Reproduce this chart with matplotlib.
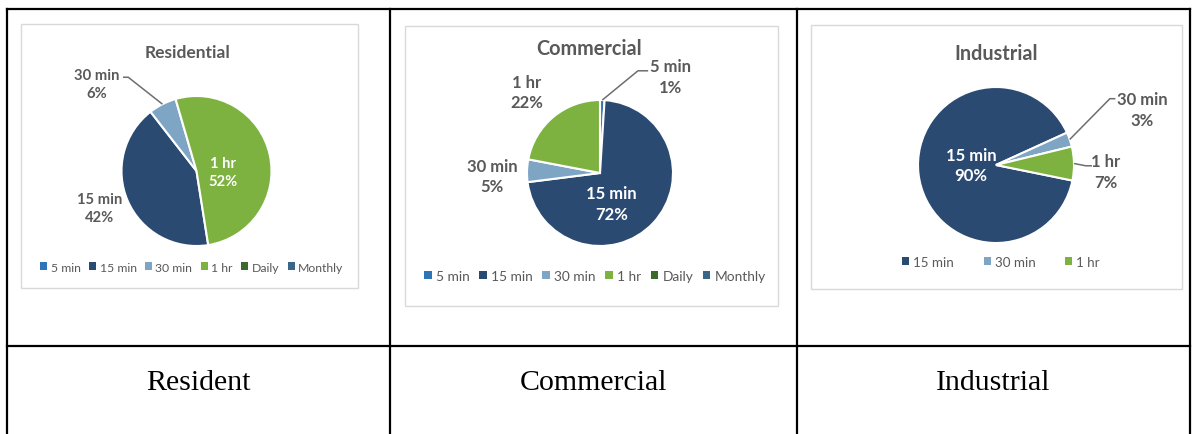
import numpy as np
import matplotlib.pyplot as plt
from matplotlib.patches import Rectangle, Patch
from matplotlib.lines import Line2D

W, H = 1192, 435

intervals = ["5 min", "15 min", "30 min", "1 hr", "Daily", "Monthly"]
colors = ["#2E75B6", "#2B4A72", "#7EA6C4", "#7DB241", "#3B6A2A", "#3A6787"]

residential = [0, 42, 6, 52, 0, 0]
commercial = [1, 72, 5, 22, 0, 0]

industrial_intervals = ["15 min", "30 min", "1 hr"]
industrial_colors = ["#2B4A72", "#7EA6C4", "#7DB241"]
industrial = [90, 3, 7]

captions = ["Resident", "Commercial", "Industrial"]

TXT = "#595959"
plt.rcParams["font.family"] = ["Lato", "DejaVu Sans"]


def fx(x):
    return x / W


def fy(y):
    return 1 - y / H


def draw_chart(fig, spec):
    # chart panel (white box with light border), kept under the pie axes
    x0, y0, x1, y1 = spec["box"]
    fig.add_artist(Rectangle((fx(x0), fy(y1)), fx(x1 - x0), (y1 - y0) / H,
                             transform=fig.transFigure, facecolor="white",
                             edgecolor="#D9D9D9", lw=1.0, zorder=-5))
    tx, ty = spec["title_xy"]
    fig.text(fx(tx), fy(ty), spec["title"], ha="center", va="center",
             fontsize=spec["title_fs"], fontweight="bold", color=TXT)

    cx, cy, r = spec["pie"]
    ax = fig.add_axes([fx(cx - r), fy(cy + r), 2 * r / W, 2 * r / H])
    ax.patch.set_alpha(0)
    names = [n for n, v in zip(spec["names"], spec["values"]) if v > 0]
    vals = [v for v in spec["values"] if v > 0]
    cols = [c for c, v in zip(spec["colors"], spec["values"]) if v > 0]
    wedges, _ = ax.pie(vals, colors=cols, startangle=spec["start"],
                       counterclock=False, radius=1.0,
                       wedgeprops=dict(edgecolor="white", linewidth=1.5))
    ax.set_xlim(-1, 1)
    ax.set_ylim(-1, 1)
    ax.axis("off")

    for name, v, w in zip(names, vals, wedges):
        lx, ly, inside = spec["labels"][name]
        ax.text(lx, ly, f"{name}\n{v}%", ha="center", va="center",
                fontsize=spec["label_fs"], fontweight="bold", linespacing=1.35,
                color="white" if inside else TXT)
        if name in spec["leaders"]:
            mid = np.deg2rad((w.theta1 + w.theta2) / 2)
            (sx, sy), (ex, ey) = spec["leaders"][name]
            px, py = np.cos(mid), np.sin(mid)
            ax.plot([sx, ex, px], [sy, ey, py], color="#6E6E6E", lw=1.1,
                    clip_on=False, solid_capstyle="butt")

    handles = [Patch(facecolor=c, edgecolor="none") for c in spec["colors"]]
    lx, ly = spec["legend_xy"]
    fig.legend(handles, spec["names"], loc="center",
               bbox_to_anchor=(fx(lx), fy(ly)), bbox_transform=fig.transFigure,
               ncol=len(spec["names"]), frameon=False,
               fontsize=spec["legend_fs"], labelcolor=TXT,
               handlelength=0.55, handleheight=0.55, handletextpad=0.3,
               columnspacing=spec["legend_gap"], borderpad=0, borderaxespad=0)


fig = plt.figure(figsize=(W / 100, H / 100), dpi=100)
fig.patch.set_facecolor("white")

charts = [
    dict(title="Residential", box=(21, 25, 358, 289), title_fs=12.5,
         title_xy=(188, 53), pie=(196.5, 172, 75), start=-81,
         names=intervals, colors=colors, values=residential, label_fs=10.6,
         labels={"15 min": (-1.29, -0.49, False),
                 "30 min": (-1.33, 1.16, False),
                 "1 hr": (0.35, -0.01, True)},
         leaders={"30 min": ((-0.98, 1.25), (-0.91, 1.25))},
         legend_xy=(192, 268), legend_fs=8.8, legend_gap=0.7),
    dict(title="Commercial", box=(405, 27, 778, 307), title_fs=14.3,
         title_xy=(589, 49), pie=(600, 174, 73), start=90,
         names=intervals, colors=colors, values=commercial, label_fs=12,
         labels={"5 min": (0.96, 1.32, False),
                 "15 min": (0.16, -0.42, True),
                 "30 min": (-1.48, -0.04, False),
                 "1 hr": (-1.0, 1.11, False)},
         leaders={"5 min": ((0.66, 1.40), (0.52, 1.40))},
         legend_xy=(595, 277), legend_fs=9.9, legend_gap=0.7),
    dict(title="Industrial", box=(811, 26, 1182, 290), title_fs=14.3,
         title_xy=(996, 54), pie=(996, 166, 78), start=-11.5,
         names=industrial_intervals, colors=industrial_colors, values=industrial,
         label_fs=12,
         labels={"15 min": (-0.32, 0.0, True),
                 "30 min": (1.87, 0.71, False),
                 "1 hr": (1.41, -0.08, False)},
         leaders={"30 min": ((1.53, 0.85), (1.46, 0.85)),
                  "1 hr": ((1.23, -0.01), (1.15, -0.01))},
         legend_xy=(1001, 263), legend_fs=9.6, legend_gap=2.2),
]

for spec in charts:
    draw_chart(fig, spec)

# table grid
grid = dict(color="black", lw=1.6, transform=fig.transFigure)
for x in (7, 390, 797, 1190):
    fig.add_artist(Line2D([fx(x), fx(x)], [fy(10), fy(435)], **grid))
for y in (10, 347):
    fig.add_artist(Line2D([fx(7), fx(1190)], [fy(y), fy(y)], **grid))

for text, x in zip(captions, (198.5, 593.5, 993.5)):
    fig.text(fx(x), fy(383), text, ha="center", va="center",
             fontsize=21.5, family="Liberation Serif", color="black")

fig.savefig("out.png", dpi=100, facecolor="white")
